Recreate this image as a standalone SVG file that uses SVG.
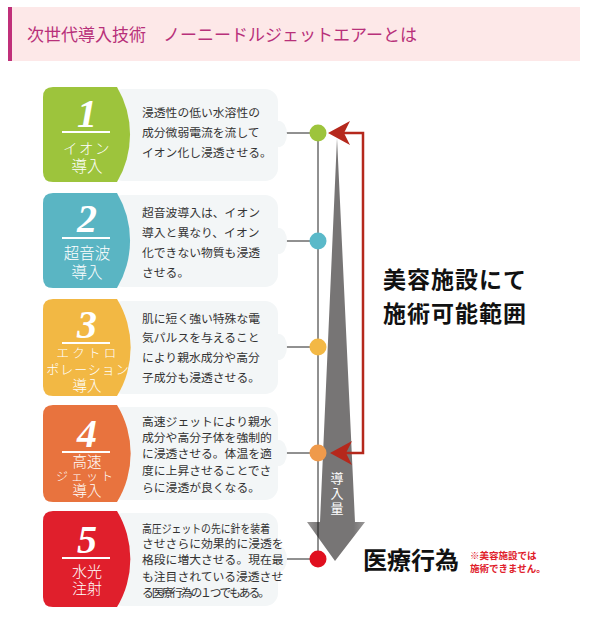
<svg xmlns="http://www.w3.org/2000/svg" width="591" height="619" viewBox="0 0 591 619">
<style>
.jp{font-family:"Noto Sans CJK JP","Noto Sans",sans-serif}
.desc{font-family:"Noto Sans CJK JP",sans-serif;fill:#333;font-size:11.8px}
.num{font-family:"Liberation Serif",serif;font-style:italic;font-weight:bold;fill:#fff;font-size:40px;text-anchor:middle}
.lab{font-family:"Noto Sans CJK JP",sans-serif;fill:#fff;text-anchor:middle;font-weight:300}
.bub{fill:#f3f6f7}
.ul{stroke:#fff;stroke-width:2}
.conn{stroke:#222;stroke-width:1;fill:none}
.red{stroke:#b5281c;stroke-width:2.5;fill:none}
</style>
<defs>
<linearGradient id="g" x1="0" y1="0" x2="1" y2="0">
<stop offset="0" stop-color="#9a9898"/>
<stop offset="0.2" stop-color="#777575"/>
<stop offset="0.8" stop-color="#777575"/>
<stop offset="1" stop-color="#9a9898"/>
</linearGradient>
</defs>
<rect width="591" height="619" fill="#fff"/>
<g id="header">
<rect x="8" y="7" width="572" height="54" fill="#fde8e8"/>
<rect x="8" y="7" width="4" height="54" fill="#c0307a"/>
<text x="27" y="41" class="jp" font-size="17" fill="#b8307a">次世代導入技術　ノーニードルジェットエアーとは</text>
</g>
<g id="connectors">
<line class="conn" x1="286" y1="133" x2="318" y2="133"/>
<line class="conn" x1="286" y1="241" x2="318" y2="241"/>
<line class="conn" x1="286" y1="347" x2="318" y2="347"/>
<line class="conn" x1="286" y1="453" x2="318" y2="453"/>
<line class="conn" x1="286" y1="559" x2="318" y2="559" stroke="#555"/>
<path d="M337,138 L320,522 L307,522 L335,561 L365,522 L355,522 Z" fill="url(#g)"/>
<line class="conn" x1="318" y1="133" x2="318" y2="559"/>
<polyline class="red" points="344,133 363,133 363,453 344,453"/>
<polygon points="328,133 350,121 344,133 350,145" fill="#b5281c"/>
<polygon points="330,453 352,441 346,453 352,465" fill="#b5281c"/>
<g class="jp" font-size="13" fill="#fff" text-anchor="middle">
<text x="337" y="483">導</text>
<text x="337" y="498">入</text>
<text x="337" y="513">量</text>
</g>
</g>
<g id="dots">
<circle cx="318" cy="133" r="8.5" fill="#9dc43c"/>
<circle cx="318" cy="241" r="8.5" fill="#5ab9c9"/>
<circle cx="318" cy="347" r="8.5" fill="#f3b845"/>
<circle cx="318" cy="453" r="8.5" fill="#ef9a4b"/>
<circle cx="318" cy="559" r="8.5" fill="#e0101f"/>
</g>
<g id="node1">
<rect class="bub" x="110" y="89" width="168" height="92" rx="13"/>
<ellipse class="bub" cx="279" cy="134" rx="8" ry="13"/>
<path d="M53,87 H117 A93,93 0 0 1 117,182 H53 Q43,182 43,172 V97 Q43,87 53,87 Z" fill="#9dc43c"/>
<text class="num" x="87" y="127">1</text>
<line class="ul" x1="62" y1="132" x2="110" y2="132"/>
<text class="lab" x="87" y="154" font-size="14.5" letter-spacing="1.5">イオン</text>
<text class="lab" x="87" y="172" font-size="15.5">導入</text>
<text class="desc" x="142" y="117">浸透性の低い水溶性の</text>
<text class="desc" x="142" y="137">成分微弱電流を流して</text>
<text class="desc" x="142" y="157">イオン化し浸透させる。</text>
</g>
<g id="node2">
<rect class="bub" x="110" y="195" width="168" height="92" rx="13"/>
<ellipse class="bub" cx="279" cy="241" rx="8" ry="13"/>
<path d="M53,193 H117 A93,93 0 0 1 117,288 H53 Q43,288 43,278 V203 Q43,193 53,193 Z" fill="#5ab5c3"/>
<text class="num" x="87" y="232">2</text>
<line class="ul" x1="62" y1="238" x2="110" y2="238"/>
<text class="lab" x="87" y="259" font-size="15.5">超音波</text>
<text class="lab" x="87" y="278" font-size="15.5">導入</text>
<text class="desc" x="142" y="217">超音波導入は、イオン</text>
<text class="desc" x="142" y="237">導入と異なり、イオン</text>
<text class="desc" x="142" y="257">化できない物質も浸透</text>
<text class="desc" x="142" y="277">させる。</text>
</g>
<g id="node3">
<rect class="bub" x="110" y="301" width="168" height="93" rx="13"/>
<ellipse class="bub" cx="279" cy="347" rx="8" ry="13"/>
<path d="M53,299 H117 A93,93 0 0 1 117,396 H53 Q43,396 43,386 V309 Q43,299 53,299 Z" fill="#f2b844"/>
<text class="num" x="87" y="338">3</text>
<line class="ul" x1="62" y1="343" x2="110" y2="343"/>
<text class="lab" x="88" y="358" font-size="12.5" letter-spacing="3.3">エクトロ</text>
<text class="lab" x="88" y="374" font-size="13" letter-spacing="1">ポレーション</text>
<text class="lab" x="87" y="391" font-size="14.5">導入</text>
<text class="desc" x="142" y="323">肌に短く強い特殊な電</text>
<text class="desc" x="142" y="342">気パルスを与えること</text>
<text class="desc" x="142" y="362">により親水成分や高分</text>
<text class="desc" x="142" y="382">子成分も浸透させる。</text>
</g>
<g id="node4">
<rect class="bub" x="110" y="407" width="168" height="93" rx="13"/>
<ellipse class="bub" cx="279" cy="453" rx="8" ry="13"/>
<path d="M53,405 H117 A93,93 0 0 1 117,502 H53 Q43,502 43,492 V415 Q43,405 53,405 Z" fill="#e8733e"/>
<text class="num" x="87" y="447">4</text>
<line class="ul" x1="62" y1="452" x2="110" y2="452"/>
<text class="lab" x="87" y="467" font-size="14.5">高速</text>
<text class="lab" x="86" y="480.5" font-size="12" letter-spacing="3">ジェット</text>
<text class="lab" x="87" y="496" font-size="14.5">導入</text>
<g class="desc" font-size="11.4">
<text x="142" y="426">高速ジェットにより親水</text>
<text x="142" y="442">成分や高分子体を強制的</text>
<text x="142" y="458">に浸透させる。体温を適</text>
<text x="142" y="475">度に上昇させることでさ</text>
<text x="142" y="492">らに浸透が良くなる。</text>
</g>
</g>
<g id="node5">
<rect class="bub" x="110" y="513" width="168" height="93" rx="13"/>
<ellipse class="bub" cx="279" cy="559" rx="8" ry="13"/>
<path d="M53,511 H117 A93,93 0 0 1 117,607 H53 Q43,607 43,597 V521 Q43,511 53,511 Z" fill="#e01f2c"/>
<text class="num" x="87" y="553">5</text>
<line class="ul" x1="62" y1="558" x2="110" y2="558"/>
<text class="lab" x="87" y="577" font-size="15">水光</text>
<text class="lab" x="87" y="594" font-size="15">注射</text>
<g class="desc" font-size="10.5">
<text x="142" y="533" textLength="128" lengthAdjust="spacingAndGlyphs">高圧ジェットの先に針を装着</text>
<text x="142" y="548">させさらに効果的に浸透を</text>
<text x="142" y="564">格段に増大させる。現在最</text>
<text x="142" y="581">も注目されている浸透させ</text>
<text x="142" y="597" textLength="128">る医療行為の１つでもある。</text>
</g>
</g>
<g id="labels">
<text x="383" y="288" class="jp" font-size="23" font-weight="bold" fill="#111" letter-spacing="1">美容施設にて</text>
<text x="383" y="322" class="jp" font-size="23" font-weight="bold" fill="#111" letter-spacing="1">施術可能範囲</text>
<text x="363" y="569" class="jp" font-size="24" font-weight="bold" fill="#111">医療行為</text>
<text x="470" y="559" class="jp" font-size="9.5" font-weight="bold" fill="#e0202a">※美容施設では</text>
<text x="470" y="572" class="jp" font-size="9.5" font-weight="bold" fill="#e0202a">施術できません。</text>
</g>
</svg>
